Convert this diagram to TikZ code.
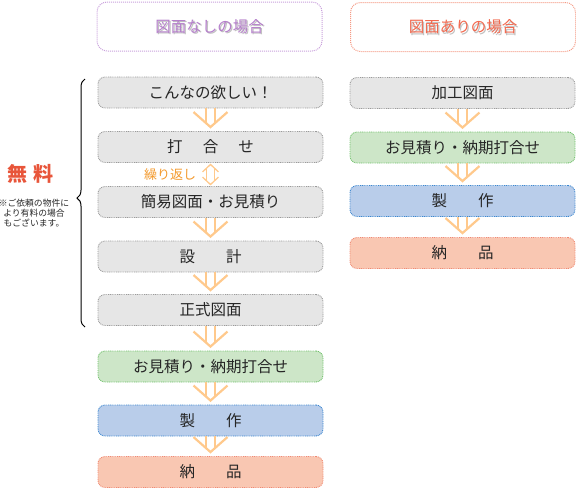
\documentclass[tikz,border=0pt]{standalone}
\usepackage{fontspec}
\setmainfont{Noto Sans CJK JP}
\usetikzlibrary{calc,decorations.pathreplacing}
\definecolor{grayfill}{HTML}{E6E6E6}
\definecolor{grayline}{HTML}{9A9A9A}
\definecolor{greenfill}{HTML}{CDE6C8}
\definecolor{greenline}{HTML}{6FC06A}
\definecolor{bluefill}{HTML}{B9CDEA}
\definecolor{blueline}{HTML}{3B86CF}
\definecolor{salmonfill}{HTML}{F9C7B2}
\definecolor{salmonline}{HTML}{F08A72}
\definecolor{arrowc}{HTML}{FFC98C}
\definecolor{txt}{HTML}{262626}
\definecolor{purpleline}{HTML}{C9A0DC}
\definecolor{purpletext}{HTML}{B57FCB}
\definecolor{redline}{HTML}{F59A85}
\definecolor{redtext}{HTML}{F2684E}
\definecolor{orangetext}{HTML}{F39A2E}
\definecolor{freered}{HTML}{E8553A}
\newcommand\flowdown[2]{%
  \draw[flowarrow] ($(#1.south)+(-4.5,0)$) -- ($(#2.north)+(-4.5,-8)$);
  \draw[flowarrow] ($(#1.south)+(4.5,0)$) -- ($(#2.north)+(4.5,-8)$);
  \draw[flowarrow] ($(#2.north)+(-17,-19)$) -- ($(#2.north)+(0,-4)$) -- ($(#2.north)+(17,-19)$);
}
\begin{document}
\begin{tikzpicture}[x=1pt,y=-1pt,
  box/.style={rounded corners=7pt, line width=0.9pt, dash pattern=on 0.9pt off 0.9pt,
    minimum width=225pt, minimum height=31pt, inner sep=0pt,
    font=\fontsize{15.5}{16}\selectfont, text=txt},
  graybox/.style={box, draw=grayline, fill=grayfill},
  greenbox/.style={box, draw=greenline, fill=greenfill},
  bluebox/.style={box, draw=blueline, fill=bluefill},
  salmonbox/.style={box, draw=salmonline, fill=salmonfill},
  headbox/.style={rounded corners=10pt, line width=1pt, dash pattern=on 1pt off 1pt,
    minimum width=225pt, minimum height=49pt, inner sep=0pt, fill=white},
  htext/.style={font=\fontsize{15.5}{16}\selectfont, inner sep=0pt},
  flowarrow/.style={draw=arrowc, line width=2.2pt},
  reparrow/.style={draw=arrowc, line width=1.3pt},
]
\useasboundingbox (0,0) rectangle (576,488);

% headers
\node[headbox, draw=purpleline] (hL) at (209.5,26.5) {};
\node[htext, text=black!40, opacity=.6] at ($(hL.center)+(1.3,1.5)$) {図面なしの場合};
\node[htext, text=purpletext] (hLt) at (hL.center) {図面なしの場合};
\node[headbox, draw=redline] (hR) at (463,27) {};
\node[htext, text=black!40, opacity=.6] at ($(hR.center)+(1.3,1.5)$) {図面ありの場合};
\node[htext, text=redtext] (hRt) at (hR.center) {図面ありの場合};

% left column
\node[graybox] (l1) at (210.5,92.5) {こんなの欲しい！};
\node[graybox] (l2) at (210.5,147) {打\hspace{1.3em}合\hspace{1.3em}せ};
\node[graybox] (l3) at (210.5,202) {簡易図面・お見積り};
\node[graybox] (l4) at (210.5,256.5) {設\hspace{2em}計};
\node[graybox] (l5) at (210.5,310) {正式図面};
\node[greenbox] (l6) at (210.5,366.5) {お見積り・納期打合せ};
\node[bluebox] (l7) at (210.5,420.5) {製\hspace{2em}作};
\node[salmonbox] (l8) at (210.5,472) {納\hspace{2em}品};

% right column
\node[graybox] (r1) at (462.5,93) {加工図面};
\node[greenbox] (r2) at (462.5,147.5) {お見積り・納期打合せ};
\node[bluebox] (r3) at (462.5,201) {製\hspace{2em}作};
\node[salmonbox] (r4) at (462.5,253) {納\hspace{2em}品};

% flow arrows
\flowdown{l1}{l2}
\flowdown{l3}{l4}
\flowdown{l4}{l5}
\flowdown{l5}{l6}
\flowdown{l6}{l7}
\flowdown{l7}{l8}
\flowdown{r1}{r2}
\flowdown{r2}{r3}
\flowdown{r3}{r4}

% repeat arrow
\draw[reparrow] ($(l2.south)+(-4,5)$) -- ($(l3.north)+(-4,-5)$);
\draw[reparrow] ($(l2.south)+(4,5)$) -- ($(l3.north)+(4,-5)$);
\draw[reparrow] ($(l2.south)+(-8,9)$) -- ($(l2.south)+(0,1.5)$) -- ($(l2.south)+(8,9)$);
\draw[reparrow] ($(l3.north)+(-8,-9)$) -- ($(l3.north)+(0,-1.5)$) -- ($(l3.north)+(8,-9)$);
\node[text=orangetext, font=\fontsize{13}{13}\selectfont, inner sep=0pt] (rep) at (170,175) {繰り返し};

% free label and brace
\node[text=freered, font=\fontsize{20}{20}\selectfont\bfseries, inner sep=0pt] (free) at (30,174) {無\hspace{0.3em}料};
\node[text=txt, font=\fontsize{8.8}{10.3}\selectfont, align=center, inner sep=0pt] (note) at (34,213) {※ご依頼の物件に\\より有料の場合\\もございます。};
\draw[decorate, decoration={brace, amplitude=8pt, aspect=0.52}, line width=1pt] (85,327) -- (85,79);
\end{tikzpicture}
\end{document}
